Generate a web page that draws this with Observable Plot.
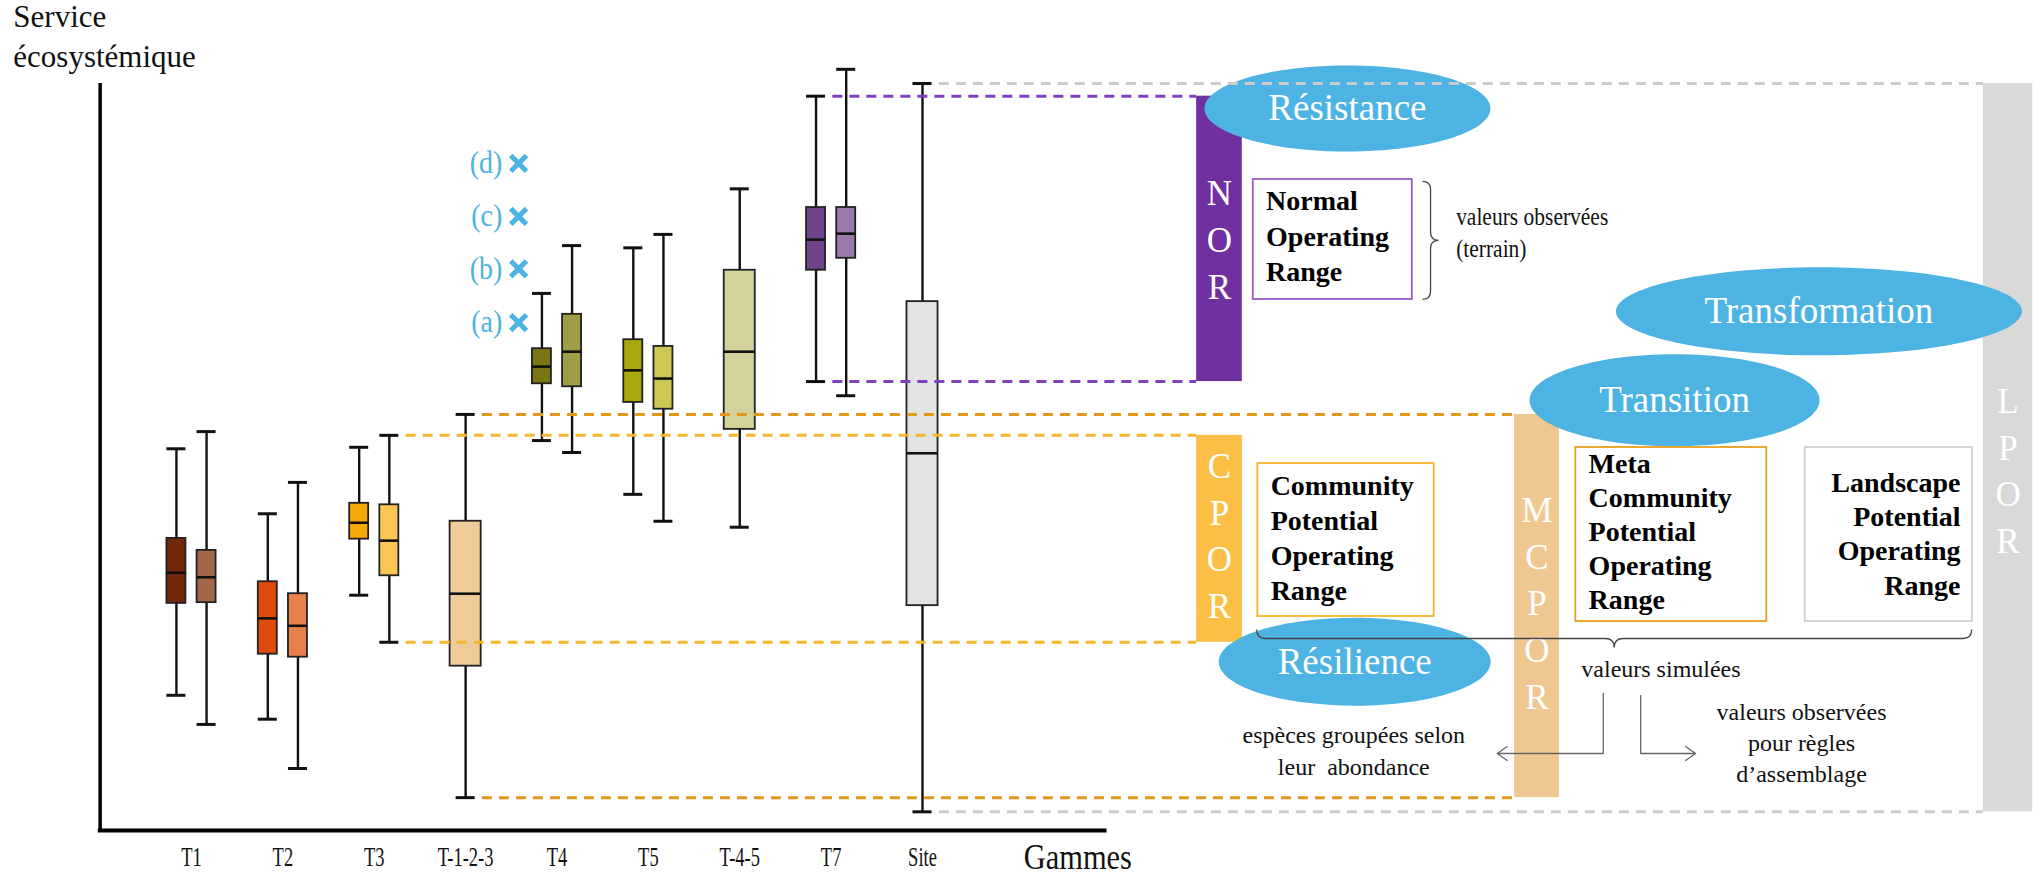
<!DOCTYPE html>
<html>
<head>
<meta charset="utf-8">
<script src="https://cdn.jsdelivr.net/npm/d3@7"></script>
<script src="https://cdn.jsdelivr.net/npm/@observablehq/plot@0.6"></script>
<style>
  html, body { margin: 0; padding: 0; background: #fff; }
  #chart { width: 2035px; height: 875px; }
</style>
</head>
<body>
<div id="chart"></div>
<script>
// ---------------- DATA ----------------
const categories = ["T1", "T2", "T3", "T-1-2-3", "T4", "T5", "T-4-5", "T7", "Site"];
const boxCategory = ["T1","T1","T2","T2","T3","T3","T-1-2-3","T4","T4","T5","T5","T-4-5","T7","T7","Site"];
const boxSeries   = ["a","b","a","b","a","b","all","a","b","a","b","all","a","b","all"];
const whiskerLow  = [18.1, 14.2, 14.9,  8.3, 31.5, 25.2,  4.4, 52.2, 50.6, 45.0, 41.4, 40.6, 60.1, 58.2,   2.5];
const quartile1   = [30.4, 30.5, 23.6, 23.2, 39.0, 34.1, 22.0, 59.8, 59.4, 57.3, 56.4, 53.7, 75.0, 76.6,  30.1];
const medians     = [34.5, 33.9, 28.4, 27.4, 41.2, 38.8, 31.7, 62.1, 64.1, 61.6, 60.5, 64.1, 79.1, 79.9,  50.5];
const quartile3   = [39.1, 37.5, 33.3, 31.7, 43.8, 43.6, 41.4, 64.5, 69.1, 65.7, 64.8, 75.0, 83.4, 83.4,  70.8];
const whiskerHigh = [51.1, 53.4, 42.4, 46.6, 51.3, 52.9, 55.7, 71.9, 78.3, 78.0, 79.8, 85.9, 98.3, 101.9, 100.0];
const boxColors   = ["#70290C","#A0674B","#E04B0B","#E8804C","#F5A905","#FBC653","#EFCB99",
                     "#7A7414","#A09D48","#A9A60E","#CCC856","#D3D29B","#704287","#9C79AC","#E3E3E3"];

const scenarioLabels = ["(a)", "(b)", "(c)", "(d)"];
const scenarioValues = [68.0, 75.2, 82.2, 89.3];

const rangeNames   = ["NOR", "CPOR", "MCPOR", "LPOR"];
const rangeSources = ["T7a", "T3b", "T-1-2-3", "Site"];
const rangeTitles  = [
  ["Normal", "Operating", "Range"],
  ["Community", "Potential", "Operating", "Range"],
  ["Meta", "Community", "Potential", "Operating", "Range"],
  ["Landscape", "Potential", "Operating", "Range"]
];
const processLabels = ["Résistance", "Résilience", "Transition", "Transformation"];

// ---------------- LAYOUT (column units on x, service units on y) ----------------
const seriesOffset = {a: -0.165, b: 0.165, all: 0};
const halfBoxOf = {a: 0.104, b: 0.104, all: 0.17};
const capHalf = 0.104;
const dashGap = 0.08;
const rangeLayout = {
  NOR:   {bar: [11.0, 11.5],   letterTop: 85.2, box: [11.62, 13.36, 87.15, 71.08], textX: 11.76, anchor: "start", lineTop: 84.2, lineStep: 4.69,
          fill: "#7030A0", dash: "#7E3FC0", frame: "#9B5CC4"},
  CPOR:  {bar: [11.0, 11.5],   letterTop: 48.7, box: [11.67, 13.60, 49.13, 28.65], textX: 11.81, anchor: "start", lineTop: 46.1, lineStep: 4.67,
          fill: "#FBBF45", dash: "#F5B72E", frame: "#F5B52B"},
  MCPOR: {bar: [14.48, 14.97], letterTop: 42.8, box: [15.15, 17.24, 51.27, 27.98], textX: 15.29, anchor: "start", lineTop: 49.0, lineStep: 4.55,
          fill: "#EFC891", dash: "#E3971A", frame: "#E8A020"},
  LPOR:  {bar: [19.61, 20.15], letterTop: 57.4, box: [17.66, 19.49, 51.27, 27.98], textX: 19.36, anchor: "end", lineTop: 46.5, lineStep: 4.57,
          fill: "#D9D9D9", dash: "#CCCCCC", frame: "#D0D0D0"}
};
const letterStep = 6.25;
const processLayout = [
  {u: 12.65, v: 96.65, rx: 143, ry: 43},
  {u: 12.73, v: 22.6,  rx: 136, ry: 44},
  {u: 16.23, v: 57.6,  rx: 145, ry: 46},
  {u: 17.81, v: 69.5,  rx: 203, ry: 44}
];
const blue = "#4DB3E3";
const serif = "'Liberation Serif', 'DejaVu Serif', serif";

// ---------------- DERIVED ----------------
const boxes = boxCategory.map((c, i) => ({
  id: boxSeries[i] === "all" ? c : c + boxSeries[i],
  cat: c, series: boxSeries[i],
  lo: whiskerLow[i], q1: quartile1[i], med: medians[i], q3: quartile3[i], hi: whiskerHigh[i],
  color: boxColors[i]
}));
const byId = new Map(boxes.map(b => [b.id, b]));
const pos = b => categories.indexOf(b.cat) + seriesOffset[b.series];
const hw = b => halfBoxOf[b.series];

const ranges = rangeNames.map((name, i) => ({name, src: byId.get(rangeSources[i]), titles: rangeTitles[i], L: rangeLayout[name]}));

const dashes = ranges.flatMap(r => [r.src.lo, r.src.hi].map(v => ({
  v, x1: pos(r.src) + capHalf + dashGap, x2: r.L.bar[0], color: r.L.dash
})));
const letters = ranges.flatMap(r => r.name.split("").map((ch, j) => ({
  ch, u: (r.L.bar[0] + r.L.bar[1]) / 2, v: r.L.letterTop - j * letterStep
})));
const titleLines = ranges.flatMap(r => r.titles.map((t, j) => ({
  t, u: r.L.textX, v: r.L.lineTop - j * r.L.lineStep, anchor: r.L.anchor
})));
const processes = processLabels.map((label, i) => ({label, ...processLayout[i]}));
const scenarios = scenarioLabels.map((label, i) => ({label, v: scenarioValues[i]}));
const scenarioAnchor = categories.indexOf("T4");

// custom symbol shapes (pixel geometry of decorations)
function ellipseSymbol(rx, ry) {
  const k = 0.5522847;
  return {draw(ctx) {
    ctx.moveTo(rx, 0);
    ctx.bezierCurveTo(rx, k * ry, k * rx, ry, 0, ry);
    ctx.bezierCurveTo(-k * rx, ry, -rx, k * ry, -rx, 0);
    ctx.bezierCurveTo(-rx, -k * ry, -k * rx, -ry, 0, -ry);
    ctx.bezierCurveTo(k * rx, -ry, rx, -k * ry, rx, 0);
    ctx.closePath();
  }};
}
function braceDown(w, q) {
  return {draw(ctx) {
    ctx.moveTo(-w / 2, -q);
    ctx.quadraticCurveTo(-w / 2, 0, -w / 2 + q, 0);
    ctx.lineTo(-q, 0);
    ctx.quadraticCurveTo(0, 0, 0, q);
    ctx.quadraticCurveTo(0, 0, q, 0);
    ctx.lineTo(w / 2 - q, 0);
    ctx.quadraticCurveTo(w / 2, 0, w / 2, -q);
  }};
}
function braceRight(h, q) {
  return {draw(ctx) {
    ctx.moveTo(-q, -h / 2);
    ctx.quadraticCurveTo(0, -h / 2, 0, -h / 2 + q);
    ctx.lineTo(0, -q);
    ctx.quadraticCurveTo(0, 0, q, 0);
    ctx.quadraticCurveTo(0, 0, 0, q);
    ctx.lineTo(0, h / 2 - q);
    ctx.quadraticCurveTo(0, h / 2, -q, h / 2);
  }};
}

const notesTop = [
  {t: "valeurs observées", u: 13.84, v: 82.1},
  {t: "(terrain)",         u: 13.84, v: 77.8}
];
const notes = [
  {t: "valeurs simulées",  u: 15.21, v: 21.55, anchor: "start"},
  {t: "espèces groupées selon", u: 12.72, v: 12.7, anchor: "middle"},
  {t: "leur  abondance",   u: 12.72, v: 8.43, anchor: "middle"},
  {t: "valeurs observées", u: 17.62, v: 15.8, anchor: "middle"},
  {t: "pour règles",       u: 17.62, v: 11.65, anchor: "middle"},
  {t: "d’assemblage",      u: 17.62, v: 7.5, anchor: "middle"}
];
const connectors = [
  {x: 15.45, y1: 18.34, y2: 10.31, xEnd: 14.29},
  {x: 15.86, y1: 18.07, y2: 10.31, xEnd: 16.46}
];

const chart = Plot.plot({
  width: 2035,
  height: 875,
  marginTop: 0, marginRight: 0, marginBottom: 0, marginLeft: 0,
  x: {domain: [0, 8], range: [191, 922], axis: null},
  y: {domain: [0, 100], range: [830, 83], axis: null},
  color: {type: "identity"},
  style: {fontFamily: serif, background: "white", overflow: "visible"},
  marks: [
    // operating range bars
    Plot.rect(ranges, {x1: r => r.L.bar[0], x2: r => r.L.bar[1], y1: r => r.src.lo, y2: r => r.src.hi, fill: r => r.L.fill}),
    // process ellipses
    ...processes.map(p => Plot.dot([p], {x: "u", y: "v", r: 1, symbol: ellipseSymbol(p.rx, p.ry), fill: blue, stroke: "none"})),
    // axes
    Plot.ruleX([-1.0], {y1: 0, y2: 100, stroke: "black", strokeWidth: 3.5}),
    Plot.ruleY([0], {x1: -1.02, x2: 10.02, stroke: "black", strokeWidth: 4}),
    // box plots
    Plot.ruleX(boxes, {x: pos, y1: "lo", y2: "hi", stroke: "#111", strokeWidth: 2.4}),
    Plot.ruleY(boxes, {y: "lo", x1: b => pos(b) - capHalf, x2: b => pos(b) + capHalf, stroke: "#111", strokeWidth: 3}),
    Plot.ruleY(boxes, {y: "hi", x1: b => pos(b) - capHalf, x2: b => pos(b) + capHalf, stroke: "#111", strokeWidth: 3}),
    Plot.rect(boxes, {x1: b => pos(b) - hw(b), x2: b => pos(b) + hw(b), y1: "q1", y2: "q3", fill: "color", stroke: "#222", strokeWidth: 1.8}),
    Plot.ruleY(boxes, {y: "med", x1: b => pos(b) - hw(b), x2: b => pos(b) + hw(b), stroke: "#111", strokeWidth: 2.6}),
    // dashed links from whisker ends to the range bars
    Plot.ruleY(dashes, {y: "v", x1: "x1", x2: "x2", stroke: "color", strokeWidth: 3, strokeDasharray: "10,7"}),
    // range frames and titles
    Plot.rect(ranges, {x1: r => r.L.box[0], x2: r => r.L.box[1], y1: r => r.L.box[2], y2: r => r.L.box[3], fill: "white", stroke: r => r.L.frame, strokeWidth: 1.8}),
    Plot.text(titleLines.filter(d => d.anchor === "start"), {x: "u", y: "v", text: "t", textAnchor: "start", fontSize: 28, fontWeight: "bold", fill: "black", fontFamily: serif}),
    Plot.text(titleLines.filter(d => d.anchor === "end"), {x: "u", y: "v", text: "t", textAnchor: "end", fontSize: 28, fontWeight: "bold", fill: "black", fontFamily: serif}),
    // bar letters
    Plot.text(letters, {x: "u", y: "v", text: "ch", fill: "white", fontSize: 35, fontFamily: serif}),
    // braces
    Plot.dot([{u: 13.56, v: 79.0}], {x: "u", y: "v", r: 1, symbol: braceRight(118, 8), fill: "none", stroke: "#444", strokeWidth: 1.3}),
    Plot.dot([{u: 15.57, v: 25.7}], {x: "u", y: "v", r: 1, symbol: braceDown(715, 9), fill: "none", stroke: "#444", strokeWidth: 1.3}),
    // connectors and arrows
    Plot.ruleX(connectors, {x: "x", y1: "y1", y2: "y2", stroke: "#666", strokeWidth: 1.3}),
    Plot.arrow(connectors, {x1: "x", y1: "y2", x2: "xEnd", y2: "y2", stroke: "#666", strokeWidth: 1.3, headLength: 14, headAngle: 70}),
    // process labels
    Plot.text(processes, {x: "u", y: "v", text: "label", fill: "white", fontSize: 37, fontFamily: serif}),
    // notes
    Plot.text(notesTop, {x: "u", y: "v", text: "t", textAnchor: "start", fontSize: 25, fill: "#111", fontFamily: serif, ariaDescription: "cond86"}),
    Plot.text(notes.filter(d => d.anchor === "start"), {x: "u", y: "v", text: "t", textAnchor: "start", fontSize: 24, fill: "#111", fontFamily: serif}),
    Plot.text(notes.filter(d => d.anchor === "middle"), {x: "u", y: "v", text: "t", textAnchor: "middle", fontSize: 24, fill: "#111", fontFamily: serif}),
    // scenario markers
    Plot.dot(scenarios, {x: () => scenarioAnchor - 0.42, y: "v", symbol: "times", r: 7.2, stroke: blue, strokeWidth: 5}),
    Plot.text(scenarios, {x: () => scenarioAnchor - 0.60, y: "v", text: "label", textAnchor: "end", fill: blue, fontSize: 31, fontFamily: serif, ariaDescription: "cond90"}),
    // category labels
    Plot.text(categories, {x: (d, i) => i, y: () => 0, text: d => d, dy: 27, fontSize: 28, fill: "#111", fontFamily: serif, ariaDescription: "cond66"}),
    Plot.text(["Gammes"], {x: () => 9.70, y: () => 0, text: d => d, dy: 27, fontSize: 35, fill: "#111", fontFamily: serif, ariaDescription: "cond87"}),
    // y title
    Plot.text(["Service", "écosystémique"], {x: () => -1.95, y: (d, i) => [108.9, 103.6][i], text: d => d, textAnchor: "start", fontSize: 31, fill: "#111", fontFamily: serif})
  ]
});

// condense some labels horizontally (like the reference typeface)
[["cond66", 0.66], ["cond87", 0.87], ["cond86", 0.86], ["cond90", 0.90]].forEach(([key, k]) => {
  d3.select(chart).selectAll(`g[aria-description='${key}'] text`).each(function() {
    const t = this.getAttribute("transform");
    if (t) {
      this.setAttribute("transform", `${t} scale(${k},1)`);
    } else {
      const x = +this.getAttribute("x") || 0, y = +this.getAttribute("y") || 0;
      this.removeAttribute("x"); this.removeAttribute("y");
      this.setAttribute("transform", `translate(${x},${y}) scale(${k},1)`);
    }
  });
});
document.getElementById("chart").appendChild(chart);
</script>
</body>
</html>
